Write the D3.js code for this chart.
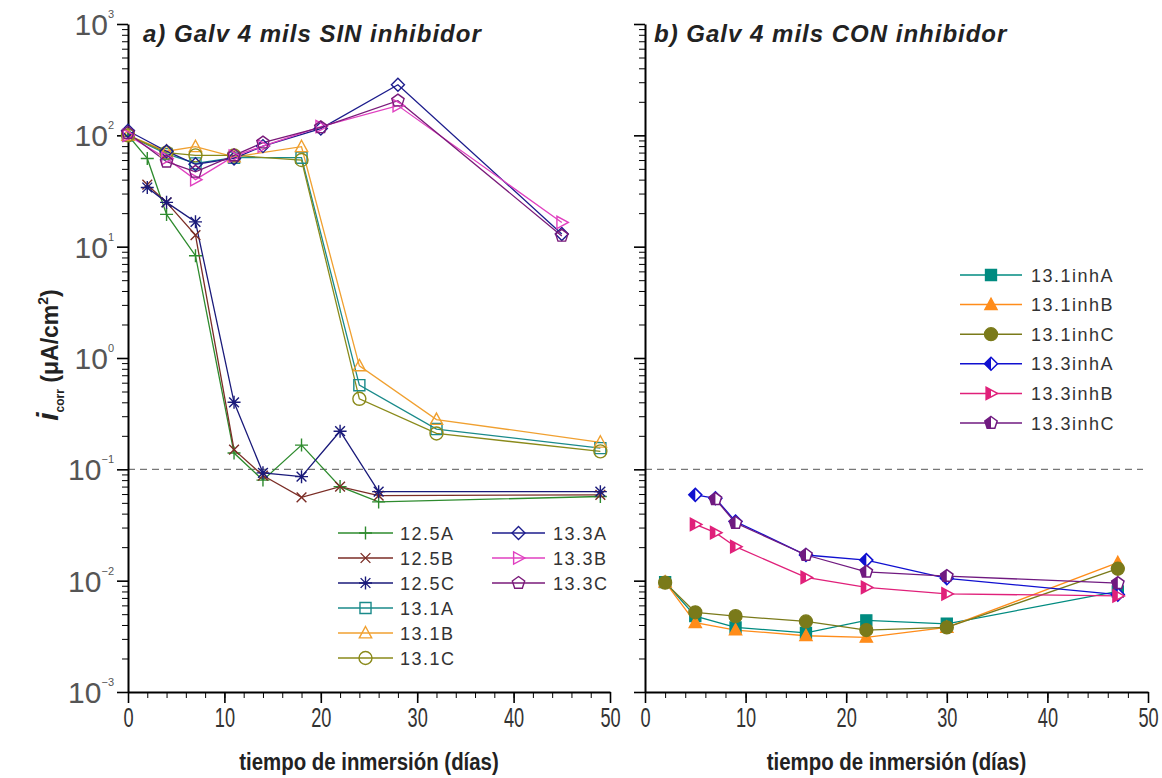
<!DOCTYPE html>
<html>
<head>
<meta charset="utf-8">
<script src="https://cdn.jsdelivr.net/npm/d3@7"></script>
<style>
  body { margin: 0; background: #fff; }
  text { font-family: "Liberation Sans", Arial, sans-serif; }
</style>
</head>
<body>
<svg width="1162" height="778"></svg>
<script>
// ---- data: [day, i_corr (uA/cm2)] ----
// panel a) sin inhibidor
const s125A = [[0, 100], [2, 62], [4, 19.5], [7, 8.3], [11, 0.14], [14, 0.08], [18, 0.165], [22, 0.07], [26, 0.051], [49, 0.057]];
const s125B = [[2, 36], [4, 25], [7, 12.7], [11, 0.15], [14, 0.088], [18, 0.056], [22, 0.07], [26, 0.058], [49, 0.059]];
const s125C = [[2, 34], [4, 25], [7, 16.7], [11, 0.4], [14, 0.093], [18, 0.086], [22, 0.22], [26, 0.063], [49, 0.063]];
const s131A = [[0, 100], [4, 68], [7, 56], [11, 63], [18, 63], [24, 0.57], [32, 0.23], [49, 0.155]];
const s131B = [[0, 100], [4, 72], [7, 79], [11, 64], [18, 79], [24, 0.85], [32, 0.28], [49, 0.175]];
const s131C = [[0, 100], [4, 70], [7, 66], [11, 66], [18, 60], [24, 0.43], [32, 0.21], [49, 0.145]];
const s133A = [[0, 110], [4, 72], [7, 55], [11, 62], [14, 80], [20, 115], [28, 285], [45, 13]];
const s133B = [[0, 100], [4, 62], [7, 40], [11, 65], [14, 80], [20, 120], [28, 185], [45, 16.5]];
const s133C = [[0, 105], [4, 58], [7, 47], [11, 66], [14, 86], [20, 118], [28, 205], [45, 12.5]];

// panel b) con inhibidor
const s131inhA = [[2, 0.0097], [5, 0.0048], [9, 0.0038], [16, 0.0034], [22, 0.0044], [30, 0.0041], [47, 0.008]];
const s131inhB = [[2, 0.0097], [5, 0.0042], [9, 0.0036], [16, 0.0032], [22, 0.0031], [30, 0.0038], [47, 0.0145]];
const s131inhC = [[2, 0.0096], [5, 0.0052], [9, 0.0048], [16, 0.0043], [22, 0.0036], [30, 0.0038], [47, 0.0128]];
const s133inhA = [[5, 0.059], [7, 0.055], [9, 0.034], [16, 0.017], [22, 0.0153], [30, 0.0105], [47, 0.0075]];
const s133inhB = [[5, 0.032], [7, 0.027], [9, 0.0202], [16, 0.0107], [22, 0.0087], [30, 0.0076], [47, 0.0073]];
const s133inhC = [[7, 0.054], [9, 0.033], [16, 0.017], [22, 0.012], [30, 0.011], [47, 0.0095]];

const xTicks = [0, 10, 20, 30, 40, 50];
const yDecades = [-3, -2, -1, 0, 1, 2, 3];
const limit = 0.1;

const leftSeries = [
  { name: "12.5A", data: s125A, color: "#2e8b2e", sym: "plus", fill: "open" },
  { name: "12.5B", data: s125B, color: "#7b2d26", sym: "cross", fill: "open" },
  { name: "12.5C", data: s125C, color: "#1a1a7a", sym: "star", fill: "open" },
  { name: "13.1A", data: s131A, color: "#1a8a8a", sym: "square", fill: "open" },
  { name: "13.1B", data: s131B, color: "#f0a030", sym: "triUp", fill: "open" },
  { name: "13.1C", data: s131C, color: "#8a8a1a", sym: "circle", fill: "open" },
  { name: "13.3A", data: s133A, color: "#1c1c8c", sym: "diamond", fill: "open" },
  { name: "13.3B", data: s133B, color: "#e040c0", sym: "triRight", fill: "open" },
  { name: "13.3C", data: s133C, color: "#7a1a7a", sym: "pentagon", fill: "open" }
];
const rightSeries = [
  { name: "13.1inhA", data: s131inhA, color: "#008b80", sym: "square", fill: "full" },
  { name: "13.1inhB", data: s131inhB, color: "#ff8c1a", sym: "triUp", fill: "full" },
  { name: "13.1inhC", data: s131inhC, color: "#7a7a1a", sym: "circle", fill: "full" },
  { name: "13.3inhA", data: s133inhA, color: "#1010d0", sym: "diamond", fill: "half" },
  { name: "13.3inhB", data: s133inhB, color: "#e0207a", sym: "triRight", fill: "half" },
  { name: "13.3inhC", data: s133inhC, color: "#701a80", sym: "pentagon", fill: "half" }
];

// ---- scales ----
const svg = d3.select("svg");
const y = d3.scaleLog().domain([1e-3, 1e3]).range([692, 24]);
const xL = d3.scaleLinear().domain([0, 50]).range([128, 610]);
const xR = d3.scaleLinear().domain([0, 50]).range([645, 1148]);

svg.append("defs").append("clipPath").attr("id", "lefthalf")
  .append("rect").attr("x", -20).attr("y", -20).attr("width", 20).attr("height", 40);

function symPath(type, r) {
  const k = r * 0.75;
  switch (type) {
    case "plus": return `M${-r},0H${r}M0,${-r}V${r}`;
    case "cross": return `M${-k},${-k}L${k},${k}M${-k},${k}L${k},${-k}`;
    case "star": return `M${-r},0H${r}M0,${-r}V${r}M${-k},${-k}L${k},${k}M${-k},${k}L${k},${-k}`;
    case "square": { const s = r * 0.85; return `M${-s},${-s}H${s}V${s}H${-s}Z`; }
    case "triUp": return `M0,${-r}L${r * 0.95},${r * 0.75}L${-r * 0.95},${r * 0.75}Z`;
    case "circle": return `M${r},0A${r},${r} 0 1,1 ${-r},0A${r},${r} 0 1,1 ${r},0Z`;
    case "diamond": return `M0,${-r}L${r},0L0,${r}L${-r},0Z`;
    case "triRight": return `M${r},0L${-r * 0.75},${-r * 0.95}L${-r * 0.75},${r * 0.95}Z`;
    case "pentagon": {
      const pts = d3.range(5).map(i => {
        const a = -Math.PI / 2 + i * 2 * Math.PI / 5;
        return [r * Math.cos(a), r * Math.sin(a)];
      });
      return "M" + pts.map(p => p.join(",")).join("L") + "Z";
    }
  }
}

function drawMarker(g, s, r) {
  const d = symPath(s.sym, r);
  if (s.fill === "full") {
    g.append("path").attr("d", d).attr("fill", s.color).attr("stroke", s.color).attr("stroke-width", 1.3);
  } else if (s.fill === "half") {
    g.append("path").attr("d", d).attr("fill", "#fff").attr("stroke", s.color).attr("stroke-width", 1.5);
    g.append("path").attr("d", d).attr("fill", s.color).attr("clip-path", "url(#lefthalf)");
  } else {
    g.append("path").attr("d", d).attr("fill", "none").attr("stroke", s.color).attr("stroke-width", 1.4);
  }
}

function drawPanel(x, series, showLabels) {
  const g = svg.append("g");

  // dashed reference line at 0.1
  g.append("line")
    .attr("x1", x(0)).attr("x2", x(50) - 5)
    .attr("y1", y(limit)).attr("y2", y(limit))
    .attr("stroke", "#777").attr("stroke-width", 1.3).attr("stroke-dasharray", "7,5");

  // y axis: minor + major ticks
  const minor = [];
  yDecades.slice(0, -1).forEach(e => { for (let m = 2; m <= 9; m++) minor.push(m * Math.pow(10, e)); });
  g.append("g").attr("transform", `translate(${x(0)},0)`)
    .call(d3.axisLeft(y).tickValues(minor).tickSize(6).tickSizeOuter(0).tickFormat(""))
    .call(a => a.select(".domain").remove());
  const ya = g.append("g").attr("transform", `translate(${x(0)},0)`)
    .call(d3.axisLeft(y).tickValues(yDecades.map(e => Math.pow(10, e))).tickSize(11).tickSizeOuter(0).tickFormat(""));
  ya.selectAll("line").attr("stroke-width", 1.6);
  ya.select(".domain").attr("stroke-width", 2);

  if (showLabels) {
    yDecades.forEach(e => {
      const t = g.append("text")
        .attr("x", x(0) - 14).attr("y", y(Math.pow(10, e)) + 11)
        .attr("text-anchor", "end").attr("fill", "#555").attr("font-size", 30);
      t.append("tspan").text("10");
      t.append("tspan").attr("dy", -17).attr("font-size", 11).text(String(e).replace("-", "\u2212"));
    });
  }

  // x axis
  g.append("g").attr("transform", `translate(0,${y(1e-3)})`)
    .call(d3.axisBottom(x).tickValues(d3.range(0, 51, 2)).tickSize(6).tickSizeOuter(0).tickFormat(""))
    .call(a => a.select(".domain").remove());
  const xa = g.append("g").attr("transform", `translate(0,${y(1e-3)})`)
    .call(d3.axisBottom(x).tickValues(xTicks).tickSize(11).tickSizeOuter(0).tickPadding(4));
  xa.select(".domain").attr("stroke-width", 2);
  xa.selectAll("line").attr("stroke-width", 1.6);
  xa.selectAll("text")
    .attr("font-size", 28).attr("fill", "#333")
    .attr("font-family", "'Liberation Sans', Arial, sans-serif")
    .attr("transform", "scale(0.65,1)");

  g.append("text")
    .attr("transform", `translate(${(x(0) + x(50)) / 2},770) scale(0.85,1)`)
    .attr("text-anchor", "middle").attr("font-weight", "bold").attr("font-size", 24).attr("fill", "#222")
    .text("tiempo de inmersión (días)");

  // series
  const line = d3.line().x(d => x(d[0])).y(d => y(d[1]));
  series.forEach(s => {
    g.append("path").datum(s.data)
      .attr("d", line).attr("fill", "none")
      .attr("stroke", s.color).attr("stroke-width", 1.3);
  });
  series.forEach(s => {
    g.selectAll(null).data(s.data).enter().append("g")
      .attr("transform", d => `translate(${x(d[0])},${y(d[1])})`)
      .each(function () { drawMarker(d3.select(this), s, 6.5); });
  });
  return g;
}

drawPanel(xL, leftSeries, true);
drawPanel(xR, rightSeries, false);

// panel titles
svg.append("text").attr("x", 143).attr("y", 42)
  .attr("font-size", 24).attr("font-weight", "bold").attr("font-style", "italic")
  .attr("letter-spacing", 1).attr("fill", "#222")
  .text("a) Galv 4 mils SIN inhibidor");
svg.append("text").attr("x", 654).attr("y", 42)
  .attr("font-size", 24).attr("font-weight", "bold").attr("font-style", "italic")
  .attr("letter-spacing", 1).attr("fill", "#222")
  .text("b) Galv 4 mils CON inhibidor");

// y axis title
const yt = svg.append("text")
  .attr("transform", "translate(58,355) rotate(-90)")
  .attr("text-anchor", "middle").attr("font-weight", "bold").attr("fill", "#222");
yt.append("tspan").attr("font-size", 30).attr("font-style", "italic").text("i");
yt.append("tspan").attr("font-size", 12).attr("dy", 6).text("corr");
yt.append("tspan").attr("font-size", 23).attr("dy", -6).text(" (\u03bcA/cm");
yt.append("tspan").attr("font-size", 14).attr("dy", -10).text("2");
yt.append("tspan").attr("font-size", 23).attr("dy", 10).text(")");

// legends
function legendRow(s, x0, x1, yy, tx) {
  const g = svg.append("g");
  g.append("line").attr("x1", x0).attr("x2", x1).attr("y1", yy).attr("y2", yy)
    .attr("stroke", s.color).attr("stroke-width", 1.5);
  const m = g.append("g").attr("transform", `translate(${(x0 + x1) / 2},${yy})`);
  drawMarker(m, s, 6.5);
  g.append("text").attr("x", tx).attr("y", yy + 6.5)
    .attr("font-size", 18).attr("letter-spacing", 1.5).attr("fill", "#333").text(s.name);
}
leftSeries.slice(0, 6).forEach((s, i) => legendRow(s, 338, 393, 533 + 25 * i, 400));
leftSeries.slice(6).forEach((s, i) => legendRow(s, 492, 545, 533 + 25 * i, 553));
rightSeries.forEach((s, i) => legendRow(s, 960, 1022, 275 + 29.6 * i, 1031));
</script>
</body>
</html>
